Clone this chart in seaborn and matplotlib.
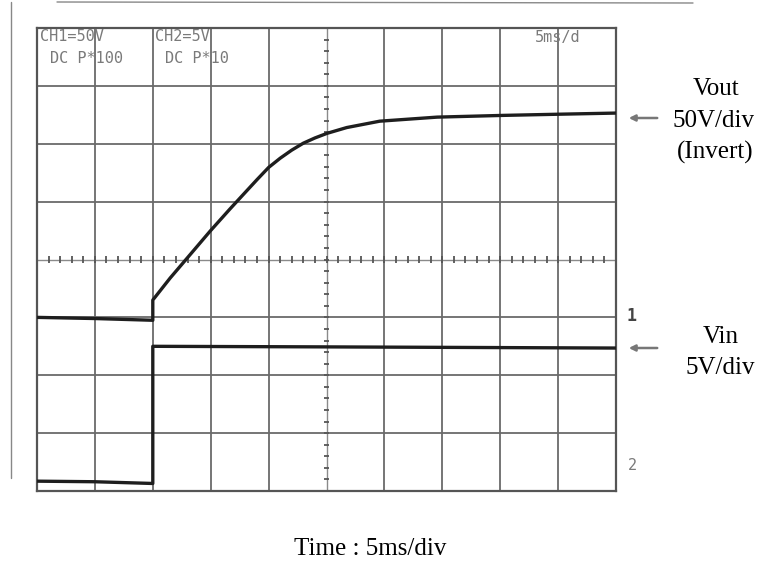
import numpy as np
import pandas as pd
import matplotlib
matplotlib.use("Agg")
import matplotlib.pyplot as plt
import seaborn as sns

# ---- data (oscilloscope divisions: x 0..10, y 0..8) ----
vout_t = [0.0, 1.0, 2.0, 2.0, 2.04, 2.30, 2.59, 2.99, 3.33, 3.56, 3.80, 4.00,
          4.20, 4.40, 4.60, 4.80, 5.01, 5.35, 5.92, 6.91, 8.05, 9.0, 10.0]
vout_v = [3.00, 2.98, 2.95, 3.30, 3.35, 3.68, 4.02, 4.49, 4.87, 5.12, 5.38, 5.59,
          5.75, 5.89, 6.01, 6.10, 6.18, 6.28, 6.39, 6.46, 6.49, 6.51, 6.53]
vin_t = [0.0, 1.0, 2.0, 2.0, 5.0, 10.0]
vin_v = [0.17, 0.16, 0.13, 2.50, 2.49, 2.47]

n_xdiv = 10
n_ydiv = 8

W, H = 763, 571
sns.set_style("white")
plt.rcParams['font.family'] = ['DejaVu Sans']
fig = plt.figure(figsize=(W / 100, H / 100), dpi=100)
fig.patch.set_facecolor("white")
L, R, T, B = 37, 616, 28, 491
ax = fig.add_axes([L / W, 1 - B / H, (R - L) / W, (B - T) / H])

grid_c = "#6a6a6a"
# grid
for gx in range(1, n_xdiv):
    if gx == 5:
        continue
    ax.axvline(gx, color=grid_c, lw=1.3, zorder=1)
for gy in range(1, n_ydiv):
    if gy == 4:
        continue
    ax.axhline(gy, color=grid_c, lw=1.3, zorder=1)
# center axes with minor ticks
ax.axvline(5, color="#8a8a8a", lw=1.0, zorder=1)
ax.axhline(4, color="#8a8a8a", lw=1.0, zorder=1)
mx = np.arange(0.2, 10.0, 0.2)
my = np.arange(0.2, 8.0, 0.2)
ax.vlines(mx, 4 - 0.06, 4 + 0.06, color="#555555", lw=1.3, zorder=1)
ax.hlines(my, 5 - 0.05, 5 + 0.05, color="#555555", lw=1.3, zorder=1)

df_out = pd.DataFrame({"t": vout_t, "v": vout_v})
df_in = pd.DataFrame({"t": vin_t, "v": vin_v})
sns.lineplot(data=df_out, x="t", y="v", sort=False, estimator=None,
             color="#1e1e1e", lw=2.4, ax=ax, zorder=3)
sns.lineplot(data=df_in, x="t", y="v", sort=False, estimator=None,
             color="#1e1e1e", lw=2.4, ax=ax, zorder=3)

ax.set_xlim(0, n_xdiv)
ax.set_ylim(0, n_ydiv)
ax.set_xticks([])
ax.set_yticks([])
ax.set_xlabel("")
ax.set_ylabel("")
for s in ax.spines.values():
    s.set_visible(True)
    s.set_color("#555555")
    s.set_linewidth(1.6)


def ft(px, py, s, **kw):
    fig.text(px / W, 1 - py / H, s, **kw)


# scope annotations
scope = dict(color="#7a7a7a", fontsize=11, family="DejaVu Sans Mono",
             va="top", ha="left")
ft(40, 29, "CH1=50V", **scope)
ft(50, 51, "DC P*100", **scope)
ft(155, 29, "CH2=5V", **scope)
ft(165, 51, "DC P*10", **scope)
ft(535, 30, "5ms/d", **scope)
ft(627, 316, "1", color="#444444", fontsize=12, family="DejaVu Sans Mono",
   fontweight="bold", va="center", ha="left")
ft(628, 466, "2", color="#7a7a7a", fontsize=11, family="DejaVu Sans Mono",
   va="center", ha="left")

# arrows
for ay in (118, 348):
    fig.add_artist(matplotlib.patches.FancyArrowPatch(
        (660 / W, 1 - ay / H), (626 / W, 1 - ay / H),
        transform=fig.transFigure, arrowstyle="-|>", mutation_scale=9,
        color="#777777", lw=1.8))

serif = dict(family="Liberation Serif", fontsize=18, color="black",
             ha="center", va="baseline")
ft(716, 95, "Vout", **serif)
ft(714, 127, "50V/div", **serif)
ft(715, 159, "(Invert)", **serif)
ft(721, 343, "Vin", **serif)
ft(720, 374, "5V/div", **serif)
ft(370, 555, "Time : 5ms/div", **serif)

# scan border lines
fig.add_artist(matplotlib.lines.Line2D([11 / W, 11 / W], [1 - 2 / H, 1 - 478 / H],
                                       color="#888888", lw=1.0))
fig.add_artist(matplotlib.lines.Line2D([57 / W, 693 / W], [1 - 2 / H, 1 - 3 / H],
                                       color="#888888", lw=1.0))

fig.savefig("out.png", dpi=100, facecolor="white")
